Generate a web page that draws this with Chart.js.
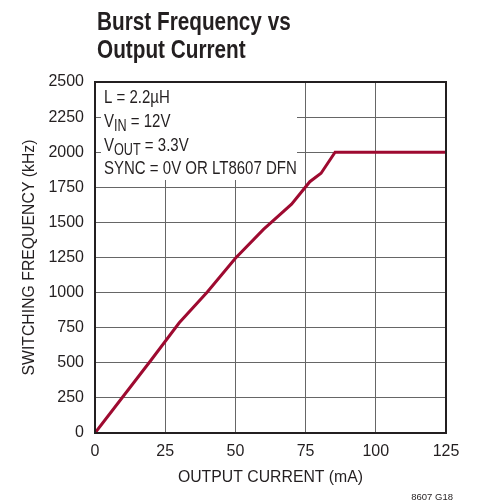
<!DOCTYPE html>
<html>
<head>
<meta charset="utf-8">
<script src="https://cdn.jsdelivr.net/npm/chart.js@4/dist/chart.umd.min.js"></script>
<style>
  html, body { margin: 0; padding: 0; background: #fff; }
  #chart { display: block; }
</style>
</head>
<body>
<canvas id="chart" width="478" height="502"></canvas>
<script>
// Burst frequency vs output current
const currentMA = [0, 10, 20, 30, 40, 50, 60, 70, 76.5, 80.5, 85.5, 125];
const frequencyKHz = [0, 260, 520, 785, 1005, 1245, 1450, 1630, 1790, 1850, 2000, 2000];

const xTicks = [0, 25, 50, 75, 100, 125];
const yTicks = [0, 250, 500, 750, 1000, 1250, 1500, 1750, 2000, 2250, 2500];

const FONT = '"Liberation Sans", Arial, sans-serif';
const INK = '#231f20';
const CURVE = '#9e0a30';

// no condensed face is installed, so squeeze hand-drawn text horizontally
function drawNarrow(ctx, text, x, y, font, sx) {
  ctx.save();
  ctx.font = font;
  ctx.translate(x, y);
  ctx.scale(sx, 1);
  ctx.fillText(text, 0, 0);
  const w = ctx.measureText(text).width * sx;
  ctx.restore();
  return w;
}

// white note box over the top-left grid, plus the heading and figure id
const notesPlugin = {
  id: 'notes',
  beforeDatasetsDraw(chart) {
    const ctx = chart.ctx;
    const area = chart.chartArea;
    ctx.save();
    ctx.fillStyle = '#fff';
    ctx.fillRect(area.left + 6, area.top + 1, 297 - area.left - 6, 180 - area.top - 1);

    ctx.fillStyle = INK;
    ctx.textBaseline = 'alphabetic';
    ctx.textAlign = 'left';
    const x = 104;
    const big = '19px ' + FONT;
    const small = '16px ' + FONT;
    const sx = 0.79;
    drawNarrow(ctx, 'L = 2.2µH', x, 103, big, sx);

    // V with subscript
    const sub = (main, subTxt, rest, y) => {
      let w = drawNarrow(ctx, main, x, y, big, sx);
      w += drawNarrow(ctx, subTxt, x + w, y + 3.5, small, sx);
      drawNarrow(ctx, rest, x + w, y, big, sx);
    };
    sub('V', 'IN', ' = 12V', 127);
    sub('V', 'OUT', ' = 3.3V', 151);
    drawNarrow(ctx, 'SYNC = 0V OR LT8607 DFN', x, 174, big, sx);
    ctx.restore();
  },
  afterDraw(chart) {
    const ctx = chart.ctx;
    const area = chart.chartArea;
    ctx.save();
    // frame on top and right
    ctx.strokeStyle = INK;
    ctx.lineWidth = 2;
    ctx.strokeRect(area.left, area.top, area.right - area.left, area.bottom - area.top);

    ctx.fillStyle = INK;
    ctx.textAlign = 'left';
    ctx.textBaseline = 'alphabetic';
    const head = 'bold 25px ' + FONT;
    drawNarrow(ctx, 'Burst Frequency vs', 97, 29.5, head, 0.83);
    drawNarrow(ctx, 'Output Current', 97, 57.5, head, 0.83);

    ctx.font = '9.5px ' + FONT;
    ctx.textAlign = 'right';
    ctx.fillText('8607 G18', 453, 499.5);
    ctx.restore();
  }
};

new Chart(document.getElementById('chart'), {
  type: 'line',
  data: {
    datasets: [{
      data: currentMA.map((x, i) => ({ x: x, y: frequencyKHz[i] })),
      borderColor: CURVE,
      borderWidth: 3,
      pointRadius: 0,
      tension: 0,
      fill: false
    }]
  },
  options: {
    responsive: false,
    animation: false,
    devicePixelRatio: 1,
    layout: { padding: { top: 82, right: 32, left: 0, bottom: 0 } },
    plugins: {
      legend: { display: false },
      tooltip: { enabled: false }
    },
    scales: {
      x: {
        type: 'linear',
        min: 0,
        max: 125,
        afterFit(scale) { scale.height = 69; },
        afterBuildTicks(scale) { scale.ticks = xTicks.map(v => ({ value: v })); },
        ticks: {
          color: INK,
          font: { family: FONT, size: 16 },
          padding: 9,
          maxRotation: 0,
          callback: v => String(v)
        },
        grid: { color: '#666', lineWidth: 1, drawTicks: false },
        border: { color: INK, width: 2 },
        title: {
          display: true,
          text: 'OUTPUT CURRENT (mA)',
          color: INK,
          font: { family: FONT, size: 15.8 },
          padding: { top: 0, bottom: 15 }
        }
      },
      y: {
        type: 'linear',
        min: 0,
        max: 2500,
        afterFit(scale) { scale.width = 95; },
        afterBuildTicks(scale) { scale.ticks = yTicks.map(v => ({ value: v })); },
        ticks: {
          color: INK,
          font: { family: FONT, size: 16 },
          padding: 11,
          callback: v => String(v)
        },
        grid: { color: '#666', lineWidth: 1, drawTicks: false },
        border: { color: INK, width: 2 },
        title: {
          display: true,
          text: 'SWITCHING FREQUENCY (kHz)',
          color: INK,
          font: { family: FONT, size: 15.8 },
          padding: { top: 20, bottom: 0 }
        }
      }
    }
  },
  plugins: [notesPlugin]
});
</script>
</body>
</html>
